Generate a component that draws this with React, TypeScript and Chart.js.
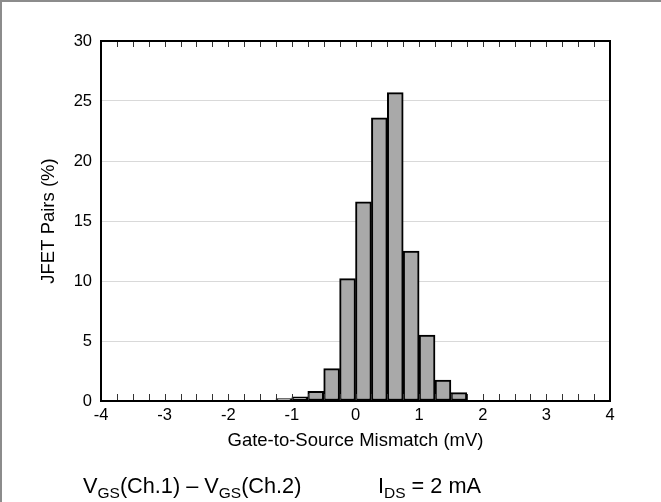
import React, { useEffect, useRef } from 'react';
import { Chart, registerables } from 'chart.js';

Chart.register(...registerables);

// ---- data ----
const binStarts = [-1.25, -1, -0.75, -0.5, -0.25, 0, 0.25, 0.5, 0.75, 1, 1.25, 1.5];
const binWidth = 0.25;
const pairsPercent = [0.2, 0.35, 0.8, 2.7, 10.2, 16.6, 23.6, 25.7, 12.5, 5.5, 1.75, 0.7];
const xTickValues = [-4, -3, -2, -1, 0, 1, 2, 3, 4];
const yTickValues = [0, 5, 10, 15, 20, 25, 30];
const xMinorStep = 0.25;

const FONT = "'Liberation Sans', Arial, sans-serif";

const framePlugin = {
  id: 'frameAndTicks',
  beforeDraw(chart: any) {
    const ctx = chart.ctx;
    ctx.save();
    ctx.strokeStyle = '#8c8c8c';
    ctx.lineWidth = 2;
    ctx.beginPath();
    ctx.moveTo(0, 1);
    ctx.lineTo(chart.width, 1);
    ctx.moveTo(1, 0);
    ctx.lineTo(1, chart.height);
    ctx.stroke();
    ctx.restore();
  },
  afterDraw(chart: any) {
    const { ctx, chartArea } = chart;
    const xs = chart.scales.x;
    const { left, right, top, bottom } = chartArea;
    ctx.save();
    ctx.strokeStyle = '#333';
    ctx.lineWidth = 1;
    ctx.beginPath();
    const n = Math.round((xs.max - xs.min) / xMinorStep);
    for (let i = 1; i < n; i++) {
      const v = xs.min + i * xMinorStep;
      const px = Math.round(xs.getPixelForValue(v)) + 0.5;
      ctx.moveTo(px, bottom);
      ctx.lineTo(px, bottom - 7);
      ctx.moveTo(px, top);
      ctx.lineTo(px, top + 6);
    }
    ctx.stroke();
    ctx.strokeStyle = '#000';
    ctx.lineWidth = 2;
    ctx.strokeRect(left, top, right - left, bottom - top);
    ctx.restore();
  },
};

export default function App() {
  const canvasRef = useRef<HTMLCanvasElement | null>(null);

  useEffect(() => {
    const canvas = canvasRef.current;
    if (!canvas) return;
    const chart = new Chart(canvas, {
      type: 'bar',
      data: {
        datasets: [
          {
            data: binStarts.map((s, i) => ({ x: s + binWidth / 2, y: pairsPercent[i] })),
            backgroundColor: '#a9a9a9',
            borderColor: '#000',
            borderWidth: 2,
            borderSkipped: false,
            barPercentage: 1,
            categoryPercentage: 1,
            grouped: false,
          } as any,
        ],
      },
      options: {
        animation: false,
        responsive: false,
        maintainAspectRatio: false,
        layout: { padding: { left: 0, top: 41, right: 51, bottom: 0 } },
        plugins: { legend: { display: false }, tooltip: { enabled: false } },
        scales: {
          x: {
            type: 'linear',
            min: -4,
            max: 4,
            offset: false,
            grid: { display: false, drawTicks: false },
            border: { display: false },
            afterBuildTicks: (s: any) => {
              s.ticks = xTickValues.map((v) => ({ value: v }));
            },
            afterFit: (s: any) => {
              s.height = 101;
            },
            ticks: { padding: 5, color: '#000', font: { family: FONT, size: 16.5 }, maxRotation: 0 },
            title: {
              display: true,
              text: 'Gate-to-Source Mismatch (mV)',
              color: '#000',
              font: { family: FONT, size: 18.5 },
              padding: { top: 0, bottom: 50 },
            },
          },
          y: {
            min: 0,
            max: 30,
            afterBuildTicks: (s: any) => {
              s.ticks = yTickValues.map((v) => ({ value: v }));
            },
            afterFit: (s: any) => {
              s.width = 101;
            },
            grid: { color: '#d9d9d9', lineWidth: 1, drawTicks: false },
            border: { display: false },
            ticks: { padding: 9, color: '#000', font: { family: FONT, size: 16.5 } },
            title: {
              display: true,
              text: 'JFET Pairs (%)',
              color: '#000',
              font: { family: FONT, size: 18.5 },
              padding: { top: 38, bottom: 0 },
            },
          },
        },
      } as any,
      plugins: [framePlugin],
    });
    return () => chart.destroy();
  }, []);

  const textStyle: React.CSSProperties = {
    position: 'absolute',
    top: 474,
    fontFamily: FONT,
    fontSize: 21.7,
    lineHeight: '24px',
    whiteSpace: 'nowrap',
    color: '#000',
  };
  const subStyle: React.CSSProperties = { fontSize: 15.5, verticalAlign: -5, lineHeight: 0 };

  return (
    <div style={{ position: 'fixed', left: 0, top: 0, width: 661, height: 502, background: '#fff' }}>
      <canvas ref={canvasRef} width={661} height={502} style={{ display: 'block', width: 661, height: 502 }} />
      <div style={{ ...textStyle, left: 83 }}>
        V<span style={subStyle}>GS</span>(Ch.1) – V<span style={subStyle}>GS</span>(Ch.2)
      </div>
      <div style={{ ...textStyle, left: 378 }}>
        I<span style={subStyle}>DS</span> = 2 mA
      </div>
    </div>
  );
}
